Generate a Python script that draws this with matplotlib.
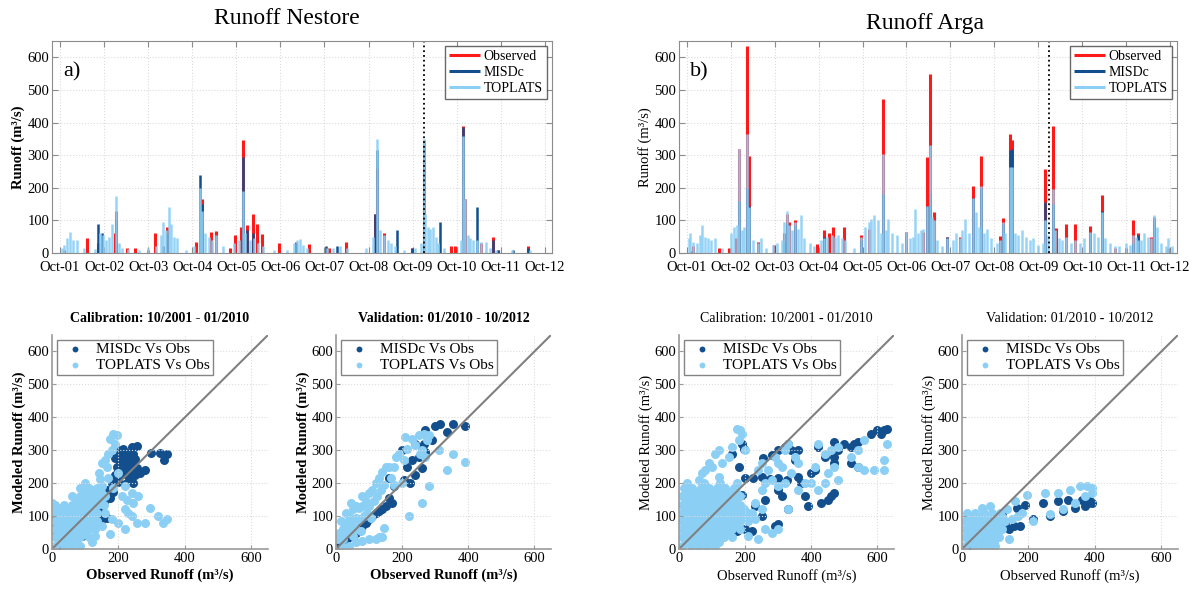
import matplotlib
matplotlib.use('Agg')
import matplotlib.pyplot as plt

plt.rcParams['font.family'] = ['Liberation Serif', 'DejaVu Serif']

# --- time axis ---------------------------------------------------------
year_ticks = [2001.75, 2002.75, 2003.75, 2004.75, 2005.75, 2006.75,
              2007.75, 2008.75, 2009.75, 2010.75, 2011.75, 2012.75]
year_labels = ['Oct-01', 'Oct-02', 'Oct-03', 'Oct-04', 'Oct-05', 'Oct-06',
               'Oct-07', 'Oct-08', 'Oct-09', 'Oct-10', 'Oct-11', 'Oct-12']
split_year = 2010.0

# --- Nestore runoff (m3/s), decimal year / value ----------------------
nes_obs_t = [2001.85, 2002.36, 2002.62, 2003.00, 2003.02, 2003.27, 2003.46, 2003.74,
             2003.91, 2004.18, 2004.83, 2004.98, 2005.18, 2005.29, 2005.61, 2005.71,
             2005.85, 2005.90, 2006.00, 2006.13, 2006.23, 2006.33, 2006.71, 2007.10,
             2007.41, 2007.85, 2008.23, 2008.89, 2008.95, 2009.10, 2009.73, 2010.00,
             2010.62, 2010.71, 2010.90, 2010.94, 2011.30, 2011.57, 2011.68, 2012.36]
nes_obs_q = [10, 47, 30, 60, 130, 15, 15, 10,
             60, 80, 35, 165, 65, 68, 15, 55,
             80, 345, 85, 120, 90, 58, 30, 35,
             28, 15, 35, 120, 260, 60, 15, 280,
             22, 22, 390, 165, 30, 48, 10, 20]
nes_mis_t = [2002.62, 2002.70, 2003.02, 2004.09, 2004.18, 2004.92, 2004.98, 2005.90,
             2006.00, 2006.13, 2007.10, 2007.78, 2008.04, 2008.89, 2008.95, 2009.40,
             2009.73, 2010.00, 2010.36, 2010.90, 2011.20, 2011.57, 2011.68, 2012.03,
             2012.36]
nes_mis_q = [88, 60, 100, 20, 60, 240, 150, 295,
             70, 60, 30, 20, 20, 120, 315, 70,
             15, 345, 95, 385, 140, 40, 10, 10,
             15]
nes_top_t = [2001.79, 2001.85, 2001.92, 2001.97, 2002.05, 2002.14, 2002.30, 2002.55,
             2002.66, 2002.72, 2002.80, 2002.87, 2002.94, 2003.02, 2003.08, 2003.15,
             2003.30, 2003.55, 2003.75, 2003.92, 2004.05, 2004.09, 2004.16, 2004.22,
             2004.27, 2004.33, 2004.40, 2004.60, 2004.80, 2004.92, 2004.97, 2005.05,
             2005.12, 2005.20, 2005.30, 2005.45, 2005.70, 2005.82, 2005.90, 2005.95,
             2006.05, 2006.15, 2006.25, 2006.35, 2006.60, 2006.90, 2007.05, 2007.12,
             2007.20, 2007.26, 2007.35, 2007.80, 2007.95, 2008.10, 2008.25, 2008.70,
             2008.85, 2008.95, 2009.02, 2009.10, 2009.18, 2009.25, 2009.35, 2009.55,
             2009.80, 2009.95, 2010.00, 2010.04, 2010.10, 2010.15, 2010.20, 2010.27,
             2010.33, 2010.45, 2010.85, 2010.90, 2010.94, 2011.00, 2011.05, 2011.12,
             2011.20, 2011.30, 2011.42, 2011.50, 2011.65, 2012.00, 2012.40]
nes_top_q = [15, 25, 45, 65, 40, 40, 15, 12,
             60, 55, 40, 50, 90, 175, 30, 15,
             12, 10, 15, 20, 55, 95, 70, 140,
             90, 50, 45, 10, 20, 200, 130, 60,
             50, 40, 55, 20, 30, 40, 190, 60,
             40, 45, 30, 20, 10, 10, 30, 40,
             42, 25, 15, 15, 15, 20, 15, 15,
             50, 350, 70, 55, 40, 30, 20, 10,
             15, 30, 350, 120, 80, 75, 80, 50,
             30, 15, 40, 360, 165, 55, 45, 40,
             40, 35, 35, 15, 10, 8, 10]

# --- Arga runoff (m3/s) ---------------------------------------------------
arg_obs_t = [2001.88, 2002.48, 2002.70, 2002.87, 2002.93, 2003.11, 2003.17, 2003.36,
             2003.73, 2003.95, 2004.02, 2004.08, 2004.21, 2004.71, 2004.88, 2004.99,
             2005.07, 2005.33, 2005.72, 2005.89, 2006.22, 2006.75, 2007.13, 2007.21,
             2007.28, 2007.38, 2007.68, 2007.96, 2008.26, 2008.45, 2008.87, 2008.94,
             2009.11, 2009.16, 2009.90, 2010.08, 2010.16, 2010.39, 2010.59, 2010.94,
             2011.20, 2011.50, 2011.74, 2011.91, 2012.02, 2012.32, 2012.38, 2012.71]
arg_obs_q = [20, 15, 15, 45, 320, 635, 298, 35,
             25, 60, 120, 95, 100, 28, 70, 60,
             80, 80, 55, 75, 473, 65, 65, 295,
             548, 125, 50, 50, 205, 298, 52, 108,
             365, 345, 258, 390, 78, 88, 90, 82,
             178, 15, 15, 100, 60, 50, 110, 15]
arg_mis_t = [2001.85, 2002.93, 2003.11, 2003.17, 2003.95, 2004.02, 2004.21, 2004.88,
             2005.72, 2006.22, 2007.21, 2007.28, 2007.68, 2008.26, 2008.45, 2008.94,
             2009.11, 2009.16, 2009.90, 2010.08, 2010.94, 2011.20, 2011.91, 2012.02,
             2012.38]
arg_mis_q = [5, 160, 200, 145, 35, 90, 85, 50,
             40, 180, 145, 185, 50, 170, 200, 90,
             315, 320, 155, 150, 60, 130, 30, 55,
             100]
arg_top_t = [2001.79, 2001.83, 2001.90, 2001.97, 2002.05, 2002.10, 2002.16, 2002.22,
             2002.31, 2002.40, 2002.55, 2002.75, 2002.82, 2002.90, 2002.93, 2003.00,
             2003.06, 2003.11, 2003.17, 2003.25, 2003.36, 2003.43, 2003.55, 2003.70,
             2003.80, 2003.91, 2003.97, 2004.02, 2004.08, 2004.14, 2004.21, 2004.27,
             2004.34, 2004.42, 2004.55, 2004.65, 2004.80, 2004.88, 2004.95, 2005.05,
             2005.12, 2005.20, 2005.28, 2005.35, 2005.55, 2005.72, 2005.80, 2005.89,
             2005.95, 2006.02, 2006.11, 2006.17, 2006.22, 2006.28, 2006.34, 2006.42,
             2006.54, 2006.65, 2006.75, 2006.82, 2006.90, 2006.95, 2007.02, 2007.08,
             2007.13, 2007.21, 2007.28, 2007.33, 2007.38, 2007.45, 2007.55, 2007.68,
             2007.80, 2007.88, 2007.96, 2008.02, 2008.09, 2008.17, 2008.26, 2008.33,
             2008.39, 2008.45, 2008.52, 2008.59, 2008.68, 2008.80, 2008.87, 2008.94,
             2009.00, 2009.11, 2009.16, 2009.22, 2009.30, 2009.39, 2009.48, 2009.56,
             2009.64, 2009.75, 2009.85, 2009.90, 2009.97, 2010.08, 2010.14, 2010.22,
             2010.30, 2010.39, 2010.50, 2010.59, 2010.70, 2010.80, 2010.94, 2011.03,
             2011.12, 2011.20, 2011.28, 2011.38, 2011.50, 2011.60, 2011.74, 2011.85,
             2011.91, 2011.97, 2012.02, 2012.10, 2012.15, 2012.25, 2012.32, 2012.38,
             2012.45, 2012.55, 2012.65, 2012.71, 2012.80]
arg_top_q = [45, 60, 35, 30, 55, 85, 50, 45,
             40, 45, 15, 60, 80, 85, 320, 70,
             80, 365, 140, 40, 30, 45, 15, 25,
             30, 40, 95, 128, 85, 70, 95, 75,
             115, 45, 30, 20, 40, 45, 50, 55,
             50, 55, 45, 40, 15, 50, 80, 95,
             105, 115, 100, 60, 305, 70, 105, 60,
             55, 30, 65, 45, 50, 135, 60, 70,
             75, 145, 330, 110, 100, 40, 20, 45,
             40, 60, 45, 70, 105, 60, 170, 125,
             80, 205, 60, 75, 45, 30, 40, 95,
             60, 265, 265, 60, 55, 70, 50, 40,
             45, 25, 30, 100, 55, 195, 70, 45,
             40, 50, 30, 40, 30, 45, 65, 60,
             50, 125, 45, 30, 20, 20, 30, 25,
             55, 50, 40, 40, 60, 50, 45, 115,
             80, 30, 20, 45, 20]

# --- scatter: (observed, modeled) pairs in m3/s --------------------------
nes_cal_mis = [(200, 300), (215, 305), (240, 310), (255, 312), (190, 275), (210, 280), (230, 278),
               (250, 272), (195, 250), (215, 252), (235, 248), (255, 245), (190, 225), (210, 228),
               (230, 222), (250, 225), (265, 230), (180, 200), (200, 205), (220, 198), (245, 200),
               (165, 178), (185, 172), (160, 150), (175, 155), (280, 240), (298, 293), (325, 293),
               (337, 270), (345, 288), (155, 95), (165, 95), (145, 92), (130, 80), (120, 75),
               (110, 70), (100, 65), (80, 55), (50, 40), (30, 25), (15, 10), (5, 60), (5, 90),
               (8, 120), (15, 100), (10, 75), (25, 60), (60, 50), (90, 40), (140, 120), (150, 185),
               (205, 290), (225, 292), (245, 290), (200, 238), (222, 238), (242, 236), (205, 262),
               (225, 265), (245, 260), (198, 215), (232, 210)]
nes_cal_top = [(10, 10), (35, 10), (60, 10), (85, 10), (10, 35), (35, 35), (60, 35), (85, 35),
               (110, 35), (10, 60), (35, 60), (60, 60), (85, 60), (110, 60), (130, 60), (10, 85),
               (35, 85), (60, 85), (85, 85), (110, 85), (135, 85), (10, 110), (35, 110), (60, 110),
               (85, 110), (110, 110), (135, 110), (10, 135), (35, 135), (60, 135), (85, 135),
               (110, 135), (135, 135), (155, 135), (60, 160), (85, 160), (110, 160), (135, 160),
               (160, 160), (85, 185), (110, 185), (135, 185), (100, 200), (0, 140), (5, 125),
               (20, 125), (40, 120), (120, 180), (145, 175), (185, 350), (195, 345), (175, 335),
               (190, 320), (180, 300), (170, 290), (160, 270), (150, 260), (165, 250), (140, 230),
               (145, 212), (170, 215), (200, 230), (185, 185), (220, 190), (240, 170), (260, 160),
               (210, 160), (225, 150), (245, 140), (220, 120), (230, 110), (180, 90), (200, 80),
               (220, 60), (175, 45), (240, 100), (255, 80), (295, 125), (320, 100), (335, 80),
               (345, 90), (280, 80), (160, 110), (150, 70), (130, 40), (120, 20), (150, 190),
               (22, 22), (47, 22), (72, 22), (22, 47), (47, 47), (72, 47), (97, 47), (22, 72),
               (47, 72), (72, 72), (97, 72), (122, 72), (22, 97), (47, 97), (72, 97), (97, 97),
               (122, 97), (22, 122), (47, 122), (72, 122), (97, 122), (122, 122), (72, 147),
               (97, 147), (122, 147), (147, 147), (97, 172), (122, 172), (147, 172)]
nes_val_mis = [(270, 360), (300, 375), (315, 380), (355, 380), (390, 375), (335, 355), (290, 330),
               (265, 320), (240, 320), (260, 310), (270, 295), (250, 280), (230, 270), (215, 250),
               (260, 245), (205, 210), (225, 200), (240, 225), (175, 190), (160, 155), (170, 140),
               (150, 130), (140, 120), (130, 115), (120, 110), (110, 100), (100, 90), (90, 80),
               (80, 70), (70, 60), (60, 50), (50, 40), (40, 35), (30, 25), (20, 15), (10, 10),
               (5, 20), (0, 30), (160, 215), (200, 300)]
nes_val_top = [(5, 30), (10, 50), (20, 60), (20, 30), (30, 80), (30, 50), (40, 100), (40, 60),
               (50, 120), (50, 80), (50, 40), (60, 130), (60, 95), (60, 60), (70, 125), (70, 90),
               (75, 55), (80, 130), (85, 100), (90, 145), (95, 110), (100, 170), (100, 130),
               (105, 95), (110, 180), (115, 145), (120, 200), (125, 160), (130, 215), (135, 180),
               (140, 235), (145, 195), (150, 250), (160, 250), (165, 215), (175, 250), (180, 280),
               (190, 290), (205, 270), (215, 305), (210, 340), (230, 335), (240, 315), (250, 345),
               (255, 290), (260, 300), (265, 350), (270, 280), (275, 330), (280, 345), (40, 10),
               (60, 20), (80, 25), (100, 30), (120, 30), (140, 35), (130, 35), (20, 5), (145, 65),
               (220, 100), (260, 140), (280, 190), (310, 300), (335, 240), (355, 290), (390, 265),
               (200, 200), (175, 195), (30, 110), (15, 85), (45, 140), (80, 160)]
arg_cal_mis = [(600, 360), (610, 350), (620, 360), (630, 365), (580, 350), (540, 325), (530, 320),
               (520, 310), (500, 320), (470, 325), (480, 300), (470, 280), (470, 260), (520, 260),
               (540, 250), (470, 170), (460, 160), (450, 150), (430, 140), (390, 130), (330, 120),
               (300, 75), (290, 70), (250, 100), (100, 55), (125, 55), (150, 58), (175, 55),
               (200, 60), (220, 55), (130, 160), (150, 165), (170, 160), (190, 165), (200, 215),
               (225, 215), (250, 218), (275, 212), (300, 215), (325, 210), (255, 275), (280, 285),
               (300, 300), (320, 310), (330, 320), (340, 300), (190, 320), (195, 305), (360, 220),
               (370, 200), (380, 160), (420, 310), (440, 280), (410, 240), (400, 230), (350, 270),
               (360, 300), (260, 150), (300, 180), (310, 160), (230, 130), (180, 250), (160, 290)]
arg_cal_top = [(10, 10), (35, 10), (60, 10), (85, 10), (110, 10), (10, 35), (35, 35), (60, 35),
               (85, 35), (110, 35), (135, 35), (160, 35), (10, 60), (35, 60), (60, 60), (85, 60),
               (110, 60), (135, 60), (160, 60), (185, 60), (10, 85), (35, 85), (60, 85), (85, 85),
               (110, 85), (135, 85), (160, 85), (185, 85), (210, 85), (10, 110), (35, 110),
               (60, 110), (85, 110), (110, 110), (135, 110), (160, 110), (185, 110), (210, 110),
               (10, 135), (35, 135), (60, 135), (85, 135), (110, 135), (135, 135), (160, 135),
               (185, 135), (10, 160), (35, 160), (60, 160), (85, 160), (110, 160), (135, 160),
               (160, 160), (185, 160), (15, 185), (40, 185), (65, 185), (90, 185), (115, 185),
               (140, 185), (165, 185), (25, 200), (75, 200), (125, 200), (175, 200), (175, 365),
               (185, 360), (190, 350), (180, 330), (160, 310), (200, 300), (120, 300), (110, 290),
               (150, 280), (130, 260), (100, 250), (80, 240), (70, 230), (60, 210), (230, 140),
               (260, 200), (280, 210), (300, 190), (320, 200), (340, 230), (330, 320), (320, 300),
               (350, 280), (360, 260), (250, 260), (240, 240), (290, 280), (310, 250), (230, 90),
               (260, 60), (280, 50), (210, 40), (220, 110), (250, 120), (420, 320), (440, 290),
               (460, 300), (480, 310), (410, 250), (450, 230), (470, 250), (400, 200), (420, 180),
               (440, 200), (480, 210), (520, 280), (540, 250), (560, 240), (590, 240), (620, 240),
               (620, 270), (630, 320), (560, 330), (540, 300), (380, 200), (360, 180), (240, 30),
               (300, 60), (330, 120), (120, 220), (90, 260), (270, 240), (300, 260), (250, 180),
               (22, 22), (47, 22), (72, 22), (97, 22), (122, 22), (22, 47), (47, 47), (72, 47),
               (97, 47), (122, 47), (147, 47), (22, 72), (47, 72), (72, 72), (97, 72), (122, 72),
               (147, 72), (172, 72), (22, 97), (47, 97), (72, 97), (97, 97), (122, 97), (147, 97),
               (172, 97), (197, 97), (22, 122), (47, 122), (72, 122), (97, 122), (122, 122),
               (147, 122), (172, 122), (197, 122), (22, 147), (47, 147), (72, 147), (97, 147),
               (122, 147), (147, 147), (172, 147), (22, 172), (47, 172), (72, 172), (97, 172),
               (122, 172), (147, 172), (172, 172)]
arg_val_mis = [(380, 140), (385, 145), (390, 140), (370, 130), (360, 150), (340, 125), (320, 150),
               (305, 115), (290, 145), (265, 100), (245, 140), (215, 90), (190, 135), (175, 70),
               (165, 125), (155, 70), (140, 60), (120, 110), (130, 80), (100, 80), (90, 60),
               (80, 70), (70, 50), (60, 40), (50, 35), (40, 30), (30, 20), (20, 10), (10, 5),
               (110, 90), (100, 50), (85, 30), (70, 20)]
arg_val_top = [(10, 10), (35, 10), (60, 10), (85, 10), (10, 35), (35, 35), (60, 35), (85, 35),
               (110, 35), (10, 60), (35, 60), (60, 60), (85, 60), (110, 60), (10, 85), (35, 85),
               (60, 85), (85, 85), (110, 85), (130, 85), (15, 110), (40, 110), (65, 110), (90, 110),
               (115, 110), (60, 125), (85, 130), (355, 190), (375, 190), (390, 185), (390, 170),
               (325, 180), (290, 170), (250, 170), (195, 165), (160, 145), (180, 110), (170, 100),
               (215, 85), (265, 105), (305, 120), (340, 140), (370, 160), (150, 90), (135, 120),
               (140, 30), (100, 10), (120, 60), (22, 22), (47, 22), (72, 22), (97, 22), (22, 47),
               (47, 47), (72, 47), (97, 47), (22, 72), (47, 72), (72, 72), (97, 72), (22, 97),
               (47, 97), (72, 97), (97, 97), (120, 97)]

OBS_COLOR = '#ff1a1a'
MIS_COLOR = '#124f8c'
TOP_COLOR = '#8ccff5'
FRAME = '#8c8c8c'
W, H = 1194, 593


def px_axes(fig, x0, x1, y0, y1):
    return fig.add_axes([x0 / W, 1 - y1 / H, (x1 - x0) / W, (y1 - y0) / H])


def runoff_panel(ax, obs, mis, top, tag, bold):
    weight = 'bold' if bold else 'normal'
    ax.vlines(obs[0], 0, obs[1], color=OBS_COLOR, lw=2.2, label='Observed')
    ax.vlines(mis[0], 0, mis[1], color=MIS_COLOR, lw=1.8, label='MISDc')
    ax.vlines(top[0], 0, top[1], color=TOP_COLOR, lw=1.8, alpha=0.9, label='TOPLATS')
    ax.axvline(split_year, color='black', ls=':', lw=1.3)
    ax.set_xlim(2001.57, 2012.91)
    ax.set_ylim(0, 650)
    ax.set_xticks(year_ticks)
    ax.set_xticklabels(year_labels)
    ax.set_yticks(range(0, 601, 100))
    ax.grid(True, color='#dcdcdc', ls=':', lw=0.8)
    ax.tick_params(direction='in', length=4, top=True, right=True, color=FRAME,
                   labelsize=10.5, pad=2)
    ax.tick_params(axis='x', pad=6)
    for sp in ax.spines.values():
        sp.set_color(FRAME)
    ax.set_ylabel('Runoff (m³/s)', fontsize=10.5, fontweight=weight, labelpad=2)
    ax.text(0.022, 0.855, tag, transform=ax.transAxes, fontsize=16, va='center')
    leg = ax.legend(loc='upper right', fontsize=10, fancybox=False, borderaxespad=0.35,
                    handlelength=2.2, handletextpad=0.3, borderpad=0.3, labelspacing=0.2)
    leg.get_frame().set_edgecolor('#444444')
    for h in leg.legend_handles:
        h.set_linewidth(2.2)
        h.set_alpha(1)


def scatter_panel(ax, mis_pts, top_pts, title, bold):
    weight = 'bold' if bold else 'normal'
    mx, my = zip(*mis_pts)
    tx, ty = zip(*top_pts)
    ax.scatter(mx, my, s=42, color=MIS_COLOR, lw=0, label='MISDc Vs Obs')
    ax.scatter(tx, ty, s=42, color=TOP_COLOR, lw=0, label='TOPLATS Vs Obs')
    ax.axline((0, 0), slope=1, color='#808080', lw=1.5)
    ax.set_xlim(0, 650)
    ax.set_ylim(0, 650)
    ax.set_xticks(range(0, 601, 200))
    ax.set_yticks(range(0, 601, 100))
    ax.grid(True, color='#dcdcdc', ls=':', lw=0.8)
    ax.spines['top'].set_visible(False)
    ax.spines['right'].set_visible(False)
    for sp in ('left', 'bottom'):
        ax.spines[sp].set_color('#9a9a9a')
        ax.spines[sp].set_linewidth(1.2)
    ax.tick_params(direction='in', length=3, color='#9a9a9a', labelsize=10.5, pad=2)
    ax.set_title(title, fontsize=10, fontweight=weight, pad=9)
    ax.set_xlabel('Observed Runoff (m³/s)', fontsize=10.5, fontweight=weight, labelpad=3)
    ax.set_ylabel('Modeled Runoff (m³/s)', fontsize=10.5, fontweight=weight, labelpad=1)
    leg = ax.legend(loc='upper left', fontsize=11, fancybox=False, borderaxespad=0.3,
                    handletextpad=0.4, borderpad=0.2, labelspacing=0.15, markerscale=0.65)
    leg.get_frame().set_edgecolor('#666666')


fig = plt.figure(figsize=(W / 100, H / 100), dpi=100)
fig.patch.set_facecolor('white')

ax_a = px_axes(fig, 52, 552, 41, 253)
runoff_panel(ax_a, (nes_obs_t, nes_obs_q), (nes_mis_t, nes_mis_q), (nes_top_t, nes_top_q), 'a)', True)
ax_b = px_axes(fig, 679, 1177, 41, 253)
runoff_panel(ax_b, (arg_obs_t, arg_obs_q), (arg_mis_t, arg_mis_q), (arg_top_t, arg_top_q), 'b)', False)

fig.text(287 / W, 1 - 19 / H, 'Runoff Nestore', ha='center', va='center', fontsize=17)
fig.text(925 / W, 1 - 24 / H, 'Runoff Arga', ha='center', va='center', fontsize=17)

ax_c = px_axes(fig, 52, 268, 335, 549)
scatter_panel(ax_c, nes_cal_mis, nes_cal_top, 'Calibration: 10/2001 - 01/2010', True)
ax_d = px_axes(fig, 336, 551, 335, 549)
scatter_panel(ax_d, nes_val_mis, nes_val_top, 'Validation: 01/2010 - 10/2012', True)
ax_e = px_axes(fig, 679, 894, 335, 549)
scatter_panel(ax_e, arg_cal_mis, arg_cal_top, 'Calibration: 10/2001 - 01/2010', False)
ax_f = px_axes(fig, 962, 1178, 335, 549)
scatter_panel(ax_f, arg_val_mis, arg_val_top, 'Validation: 01/2010 - 10/2012', False)

fig.savefig('out.png', dpi=100, facecolor='white')
